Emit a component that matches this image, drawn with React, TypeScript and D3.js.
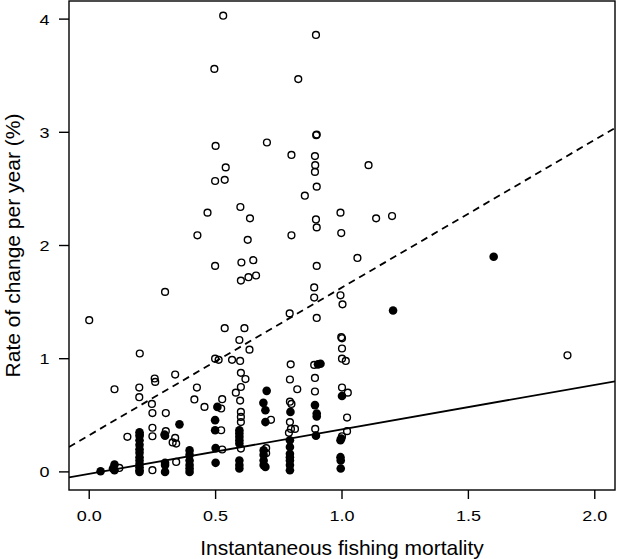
import React from "react";
import * as d3 from "d3";

const xTicks = [0.0, 0.5, 1.0, 1.5, 2.0];
const yTicks = [0, 1, 2, 3, 4];
const xDomain: [number, number] = [-0.08, 2.08];
const yDomain: [number, number] = [-0.16, 4.16];

// open circles (x = instantaneous fishing mortality, y = rate of change %/yr)
const openPoints: [number, number][] = [
  [0.53, 4.03], [0.495, 3.56], [0.827, 3.47], [0.897, 3.86], [0.5, 2.88], [0.703, 2.91], [0.8, 2.8],
  [0.54, 2.69], [0.498, 2.57], [0.536, 2.58], [0.853, 2.44], [0.468, 2.29], [0.598, 2.34], [0.636, 2.24],
  [0.428, 2.09], [0.627, 2.05], [0.8, 2.09], [0.498, 1.82], [0.602, 1.85], [0.649, 1.87], [0.6, 1.69],
  [0.63, 1.72], [0.66, 1.735],
  [0.9, 2.98], [0.898, 2.975], [0.893, 2.79], [0.894, 2.71], [0.893, 2.65], [0.9, 2.52], [1.105, 2.71],
  [0.994, 2.29], [0.897, 2.23], [0.9, 2.16], [0.997, 2.11], [1.135, 2.24], [1.198, 2.26], [1.061, 1.89],
  [0.9, 1.82], [0.89, 1.63], [0.994, 1.56], [0.89, 1.54], [1.002, 1.48], [0.9, 1.36], [0.793, 1.4],
  [1.892, 1.03],
  [0.997, 1.19], [1.0, 1.18], [1.0, 1.09], [1.0, 1.0], [1.015, 0.98], [0.89, 0.945],
  [0.893, 0.83], [0.893, 0.71], [0.894, 0.38], [1.0, 0.745], [1.023, 0.7], [1.02, 0.48], [1.02, 0.36],
  [1.0, 0.315],
  [0.797, 0.95], [0.794, 0.816], [0.823, 0.73], [0.794, 0.62], [0.8, 0.6], [0.794, 0.44], [0.798, 0.38],
  [0.814, 0.38], [0.79, 0.345], [0.719, 0.46], [0.7, 0.21], [0.7, 0.165],
  [0.536, 1.27], [0.614, 1.27], [0.594, 1.165], [0.634, 1.08], [0.498, 1.0], [0.512, 0.99], [0.565, 0.99],
  [0.597, 0.98], [0.6, 0.875], [0.618, 0.82], [0.6, 0.75], [0.58, 0.7], [0.597, 0.63], [0.6, 0.53],
  [0.6, 0.486], [0.6, 0.44], [0.6, 0.206],
  [0.0, 1.34], [0.3, 1.59], [0.2, 1.046], [0.1, 0.73], [0.198, 0.745], [0.198, 0.66], [0.259, 0.825],
  [0.261, 0.795], [0.34, 0.86], [0.248, 0.6], [0.25, 0.52], [0.303, 0.52], [0.25, 0.39], [0.303, 0.36],
  [0.25, 0.315], [0.151, 0.31], [0.119, 0.035], [0.25, 0.015], [0.344, 0.088], [0.34, 0.3], [0.33, 0.26],
  [0.344, 0.25],
  [0.426, 0.745], [0.416, 0.64], [0.456, 0.574], [0.526, 0.642], [0.522, 0.56], [0.522, 0.368],
  [0.526, 0.198], [0.2, 0.33],
];

// filled circles
const filledPoints: [number, number][] = [
  [1.6, 1.9], [1.202, 1.426], [0.915, 0.955], [0.905, 0.95], [0.893, 0.59], [0.9, 0.515], [0.9, 0.49],
  [0.897, 0.32], [1.0, 0.67], [0.997, 0.295], [0.994, 0.28], [0.994, 0.13], [0.995, 0.1], [0.995, 0.03],
  [0.702, 0.716], [0.689, 0.61], [0.697, 0.545], [0.697, 0.44], [0.69, 0.19], [0.69, 0.15], [0.69, 0.1],
  [0.69, 0.06], [0.697, 0.044],
  [0.796, 0.53], [0.794, 0.28], [0.794, 0.22], [0.794, 0.16], [0.794, 0.13], [0.794, 0.1], [0.794, 0.06],
  [0.794, 0.015],
  [0.507, 0.574], [0.498, 0.457], [0.498, 0.368], [0.5, 0.21], [0.5, 0.08],
  [0.357, 0.42],
  [0.397, 0.19], [0.397, 0.15], [0.397, 0.1], [0.397, 0.06], [0.397, 0.03], [0.397, 0.0],
  [0.594, 0.368], [0.594, 0.34], [0.594, 0.31], [0.594, 0.28], [0.594, 0.25], [0.594, 0.1], [0.594, 0.06],
  [0.594, 0.03],
  [0.298, 0.33], [0.3, 0.32], [0.3, 0.08], [0.3, 0.06], [0.3, 0.0],
  [0.199, 0.35], [0.199, 0.32], [0.199, 0.28], [0.199, 0.24], [0.199, 0.2], [0.199, 0.17], [0.199, 0.13],
  [0.199, 0.1], [0.199, 0.07], [0.199, 0.04], [0.199, 0.015], [0.199, 0.0],
  [0.045, 0.006], [0.094, 0.03], [0.1, 0.065], [0.1, 0.015],
];

// regression lines: [intercept, slope]
const dashedFit: [number, number] = [0.324, 1.305];
const solidFit: [number, number] = [-0.017, 0.393];

const W = 617;
const H = 559;
const L = 69, R = 615, T = 1, B = 490;
const FONT = "'Liberation Sans', Arial, Helvetica, sans-serif";

export default function App() {
  const x = d3.scaleLinear().domain(xDomain).range([L, R]);
  const y = d3.scaleLinear().domain(yDomain).range([B, T]);
  const fitPath = (f: [number, number]) => {
    const g = d3.line<number>().x((d) => x(d)).y((d) => y(f[0] + f[1] * d));
    return g([xDomain[0], xDomain[1]]) || "";
  };
  return (
    <div style={{ position: "fixed", left: 0, top: 0 }}>
      <svg width={W} height={H} style={{ display: "block", background: "#fff" }}>
        <defs>
          <clipPath id="plotclip">
            <rect x={L} y={T} width={R - L} height={B - T} />
          </clipPath>
        </defs>
        <g clipPath="url(#plotclip)">
          <path d={fitPath(dashedFit)} fill="none" stroke="#000" strokeWidth={1.8} strokeDasharray="7,5" />
          <path d={fitPath(solidFit)} fill="none" stroke="#000" strokeWidth={1.8} />
        </g>
        {filledPoints.map((p, i) => (
          <circle key={"f" + i} cx={x(p[0])} cy={y(p[1])} r={4.3} fill="#000" />
        ))}
        {openPoints.map((p, i) => (
          <circle key={"o" + i} cx={x(p[0])} cy={y(p[1])} r={3.4} fill="none" stroke="#000" strokeWidth={1.4} />
        ))}
        <rect x={L} y={T} width={R - L} height={B - T} fill="none" stroke="#000" strokeWidth={1.4} />
        {xTicks.map((t) => (
          <g key={"xt" + t}>
            <line x1={x(t)} x2={x(t)} y1={B} y2={B + 9} stroke="#000" strokeWidth={1.4} />
            <text
              transform={`translate(${x(t)},521) scale(1.2,1)`}
              textAnchor="middle"
              fontFamily={FONT}
              fontSize={15}
            >
              {t.toFixed(1)}
            </text>
          </g>
        ))}
        {yTicks.map((t) => (
          <g key={"yt" + t}>
            <line x1={L - 10} x2={L} y1={y(t)} y2={y(t)} stroke="#000" strokeWidth={1.4} />
            <text
              transform={`translate(49.5,${y(t) + 5.5}) scale(1.2,1)`}
              textAnchor="end"
              fontFamily={FONT}
              fontSize={15}
            >
              {t}
            </text>
          </g>
        ))}
        <text x={(L + R) / 2} y={555} textAnchor="middle" fontFamily={FONT} fontSize={21}>
          Instantaneous fishing mortality
        </text>
        <text
          transform={`translate(20,${(T + B) / 2}) rotate(-90)`}
          textAnchor="middle"
          fontFamily={FONT}
          fontSize={21}
        >
          Rate of change per year (%)
        </text>
      </svg>
    </div>
  );
}
